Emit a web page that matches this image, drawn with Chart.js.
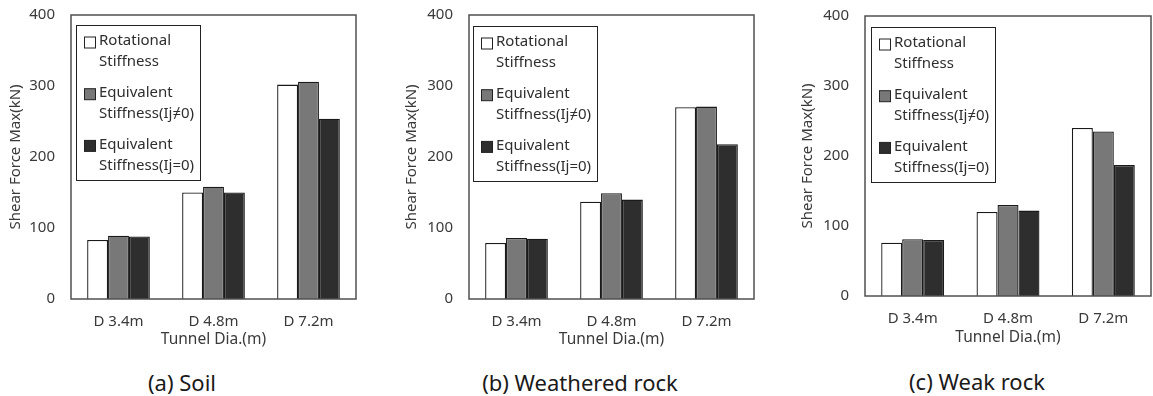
<!DOCTYPE html>
<html>
<head>
<meta charset="utf-8">
<script src="https://cdn.jsdelivr.net/npm/chart.js@4/dist/chart.umd.min.js"></script>
<style>
  body { margin: 0; background: #fff; width: 1153px; height: 396px; position: relative; overflow: hidden; font-family: "Noto Sans", sans-serif; }
  .panel { position: absolute; top: 0; }
  .caption { position: absolute; font-size: 22px; color: #1a1a1a; white-space: nowrap; transform: translate(-50%, -50%); }
</style>
</head>
<body>
<canvas id="chartA" class="panel"></canvas>
<canvas id="chartB" class="panel"></canvas>
<canvas id="chartC" class="panel"></canvas>
<div class="caption" style="left:182px; top:382px;">(a) Soil</div>
<div class="caption" style="left:580px; top:382px;">(b) Weathered rock</div>
<div class="caption" style="left:977px; top:381px;">(c) Weak rock</div>

<script>
// Data

const categories = ['D 3.4m', 'D 4.8m', 'D 7.2m'];
const seriesNames = [
  ['Rotational', 'Stiffness'],
  ['Equivalent', 'Stiffness(Ij≠0)'],
  ['Equivalent', 'Stiffness(Ij=0)'],
];
const yTicks = [0, 100, 200, 300, 400];

const soilRotational = [83, 150, 302];
const soilEqNonZero = [89, 158, 306];
const soilEqZero = [88, 150, 254];

const weatheredRotational = [79, 137, 270];
const weatheredEqNonZero = [86, 149, 271];
const weatheredEqZero = [85, 140, 218];

const weakRotational = [76, 120, 240];
const weakEqNonZero = [81, 130, 235];
const weakEqZero = [80, 122, 187];

const xTitle = 'Tunnel Dia.(m)';
const yTitle = 'Shear Force Max(kN)';

// Settings

const colors = {
  fills: ['#ffffff', '#787878', '#2e2e2e'],
  barBorder: '#1a1a1a',
  frame: '#505050',
  text: '#3a3a3a',
  legendText: '#2e2e2e',
};

Chart.defaults.font.family = '"Noto Sans", sans-serif';
Chart.defaults.animation = false;

// Frame round the plot area and the boxed legend inside it
const framePlugin = {
  id: 'frame',
  afterDatasetsDraw(chart) {
    const {ctx, chartArea: a} = chart;
    ctx.save();
    ctx.strokeStyle = colors.frame;
    ctx.lineWidth = 1.5;
    ctx.strokeRect(a.left, a.top, a.right - a.left, a.bottom - a.top);
    ctx.restore();
  }
};

const boxLegendPlugin = {
  id: 'boxLegend',
  afterDraw(chart, args, opts) {
    const {ctx, chartArea: a} = chart;
    const x = a.left + opts.offsetX;
    const y = a.top + opts.offsetY;
    ctx.save();
    ctx.fillStyle = '#fff';
    ctx.fillRect(x, y, 124, 155);
    ctx.strokeStyle = '#222';
    ctx.lineWidth = 1;
    ctx.strokeRect(x + 0.5, y + 0.5, 124, 155);
    ctx.font = '15px "Noto Sans", sans-serif';
    ctx.textBaseline = 'middle';
    chart.data.datasets.forEach(function(ds, i) {
      const top = y + i * 51.7;
      ctx.fillStyle = ds.backgroundColor;
      ctx.fillRect(x + 8.5, top + 12, 11, 11);
      ctx.strokeStyle = '#222';
      ctx.strokeRect(x + 8.5, top + 12, 11, 11);
      ctx.fillStyle = colors.legendText;
      ds.lines.forEach(function(line, j) {
        ctx.fillText(line, x + 23, top + 16 + j * 21);
      });
    });
    ctx.restore();
  }
};

function makeChart(id, left, width, height, series, layout) {
  const canvas = document.getElementById(id);
  canvas.style.left = left + 'px';
  canvas.width = width;
  canvas.height = height;

  return new Chart(canvas, {
    type: 'bar',
    data: {
      labels: categories,
      datasets: series.map(function(values, i) {
        return {
          label: seriesNames[i].join(' '),
          lines: seriesNames[i],
          data: values,
          backgroundColor: colors.fills[i],
          borderColor: colors.barBorder,
          borderWidth: 1.3,
          categoryPercentage: 0.66,
          barPercentage: 1,
        };
      }),
    },
    options: {
      responsive: false,
      layout: { padding: layout.padding },
      plugins: {
        legend: { display: false },
        tooltip: { enabled: false },
        boxLegend: { offsetX: layout.legendX, offsetY: layout.legendY },
      },
      scales: {
        x: {
          grid: { display: false, drawTicks: true, tickLength: 10 },
          border: { display: false },
          ticks: { color: colors.text, font: { size: 15 }, padding: 4 },
          title: { display: true, text: xTitle, color: colors.text, font: { size: 15.5 }, padding: { top: 0, bottom: 2 } },
          afterFit: function(scale) { scale.height = layout.xHeight; },
        },
        y: {
          min: 0,
          max: 400,
          afterBuildTicks: function(scale) {
            scale.ticks = yTicks.map(function(v) { return { value: v }; });
          },
          // tick marks are hidden, their length only sets the label gap
          grid: { display: false, drawTicks: true, tickLength: 12 },
          border: { display: false },
          ticks: { color: colors.text, font: { size: 15 }, padding: 4 },
          title: { display: true, text: yTitle, color: colors.text, font: { size: 15 }, padding: { top: 3, bottom: 0 } },
          afterFit: function(scale) { scale.width = layout.yWidth; },
        },
      },
    },
    plugins: [framePlugin, boxLegendPlugin],
  });
}

makeChart('chartA', 0, 385, 351,
  [soilRotational, soilEqNonZero, soilEqZero],
  { padding: { left: 4, right: 29, top: 15, bottom: 0 }, yWidth: 67, xHeight: 52, legendX: 5, legendY: 10 });

makeChart('chartB', 390, 385, 351,
  [weatheredRotational, weatheredEqNonZero, weatheredEqZero],
  { padding: { left: 10, right: 21, top: 15, bottom: 0 }, yWidth: 69, xHeight: 52, legendX: 4, legendY: 11 });

makeChart('chartC', 770, 383, 349,
  [weakRotational, weakEqNonZero, weakEqZero],
  { padding: { left: 26, right: 2, top: 16, bottom: 0 }, yWidth: 69, xHeight: 53, legendX: 6, legendY: 11 });
</script>
</body>
</html>
